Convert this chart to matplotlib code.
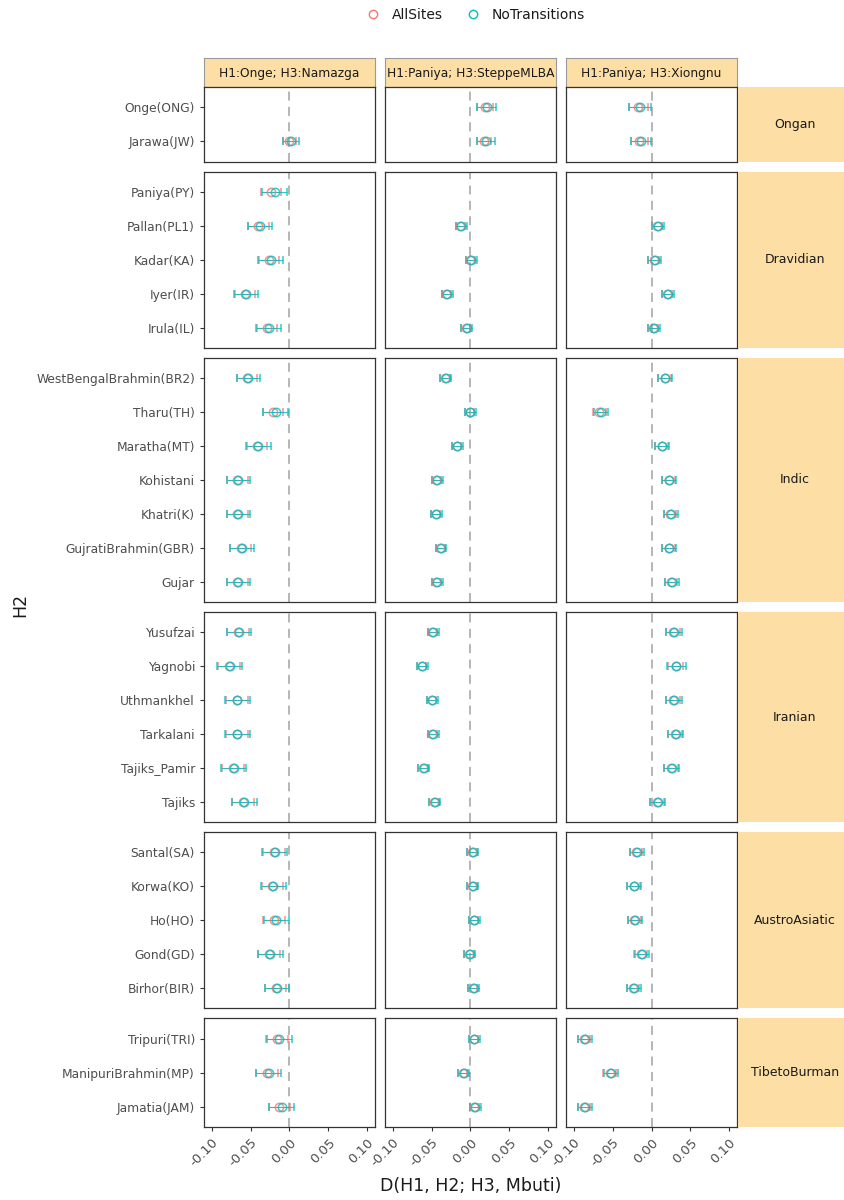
import numpy as np
import matplotlib
matplotlib.use("Agg")
import matplotlib.pyplot as plt
from matplotlib.lines import Line2D

nan = np.nan

# ---- data -------------------------------------------------------------
comparisons = ["H1:Onge; H3:Namazga", "H1:Paniya; H3:SteppeMLBA", "H1:Paniya; H3:Xiongnu"]

groups = ["Ongan", "Dravidian", "Indic", "Iranian", "AustroAsiatic", "TibetoBurman"]

populations = [
    ["Onge(ONG)", "Jarawa(JW)"],
    ["Paniya(PY)", "Pallan(PL1)", "Kadar(KA)", "Iyer(IR)", "Irula(IL)"],
    ["WestBengalBrahmin(BR2)", "Tharu(TH)", "Maratha(MT)", "Kohistani", "Khatri(K)",
     "GujratiBrahmin(GBR)", "Gujar"],
    ["Yusufzai", "Yagnobi", "Uthmankhel", "Tarkalani", "Tajiks_Pamir", "Tajiks"],
    ["Santal(SA)", "Korwa(KO)", "Ho(HO)", "Gond(GD)", "Birhor(BIR)"],
    ["Tripuri(TRI)", "ManipuriBrahmin(MP)", "Jamatia(JAM)"],
]

# D statistic per comparison (flattened over the populations above)
d_notrans_namazga = [nan, 0.002, -0.019, -0.038, -0.024, -0.056, -0.027,
                     -0.053, -0.018, -0.040, -0.066, -0.066, -0.061, -0.066,
                     -0.065, -0.077, -0.067, -0.067, -0.072, -0.058,
                     -0.019, -0.021, -0.017, -0.025, -0.016,
                     -0.013, -0.027, -0.010]
d_allsites_namazga = [nan, 0.000, -0.024, -0.040, -0.026, -0.057, -0.029,
                      -0.055, -0.021, -0.042, -0.067, -0.067, -0.063, -0.067,
                      -0.066, -0.078, -0.068, -0.068, -0.073, -0.060,
                      -0.020, -0.022, -0.020, -0.026, -0.018,
                      -0.016, -0.029, -0.013]
err_notrans_namazga = [nan, 0.010, 0.016, 0.016, 0.016, 0.016, 0.016,
                       0.015, 0.016, 0.016, 0.015, 0.015, 0.015, 0.015,
                       0.016, 0.016, 0.016, 0.016, 0.016, 0.016,
                       0.016, 0.016, 0.016, 0.016, 0.016,
                       0.016, 0.016, 0.016]
err_allsites_namazga = [nan, 0.008, 0.013, 0.013, 0.013, 0.013, 0.013,
                        0.013, 0.013, 0.013, 0.013, 0.013, 0.013, 0.013,
                        0.014, 0.014, 0.014, 0.014, 0.014, 0.014,
                        0.014, 0.014, 0.014, 0.014, 0.014,
                        0.014, 0.014, 0.014]

d_notrans_steppe = [0.021, 0.020, nan, -0.012, 0.001, -0.030, -0.005,
                    -0.032, 0.000, -0.017, -0.043, -0.044, -0.038, -0.043,
                    -0.048, -0.062, -0.049, -0.048, -0.060, -0.046,
                    0.003, 0.003, 0.005, -0.001, 0.004,
                    0.005, -0.009, 0.006]
d_allsites_steppe = [0.019, 0.018, nan, -0.013, 0.000, -0.031, -0.006,
                     -0.033, -0.001, -0.018, -0.044, -0.045, -0.039, -0.044,
                     -0.049, -0.063, -0.050, -0.049, -0.061, -0.047,
                     0.002, 0.002, 0.004, -0.002, 0.003,
                     0.004, -0.010, 0.005]
err_notrans_steppe = [0.012, 0.011, nan, 0.007, 0.007, 0.007, 0.007,
                      0.007, 0.007, 0.007, 0.007, 0.007, 0.007, 0.007,
                      0.007, 0.007, 0.007, 0.007, 0.007, 0.007,
                      0.007, 0.007, 0.007, 0.007, 0.007,
                      0.007, 0.007, 0.007]
err_allsites_steppe = [0.010, 0.009, nan, 0.006, 0.006, 0.006, 0.006,
                       0.006, 0.006, 0.006, 0.006, 0.006, 0.006, 0.006,
                       0.006, 0.006, 0.006, 0.006, 0.006, 0.006,
                       0.006, 0.006, 0.006, 0.006, 0.006,
                       0.006, 0.006, 0.006]

d_notrans_xiongnu = [-0.015, -0.014, nan, 0.008, 0.004, 0.021, 0.003,
                     0.018, -0.065, 0.014, 0.023, 0.025, 0.023, 0.026,
                     0.029, 0.032, 0.029, 0.031, 0.026, 0.008,
                     -0.019, -0.022, -0.021, -0.012, -0.023,
                     -0.085, -0.052, -0.085]
d_allsites_xiongnu = [-0.017, -0.016, nan, 0.007, 0.003, 0.020, 0.002,
                      0.017, -0.067, 0.013, 0.022, 0.024, 0.022, 0.025,
                      0.028, 0.031, 0.028, 0.030, 0.025, 0.007,
                      -0.020, -0.023, -0.022, -0.014, -0.024,
                      -0.087, -0.054, -0.087]
err_notrans_xiongnu = [0.014, 0.013, nan, 0.008, 0.008, 0.008, 0.008,
                       0.009, 0.009, 0.009, 0.009, 0.009, 0.009, 0.009,
                       0.010, 0.012, 0.010, 0.010, 0.010, 0.010,
                       0.009, 0.009, 0.009, 0.009, 0.009,
                       0.009, 0.009, 0.009]
err_allsites_xiongnu = [0.012, 0.011, nan, 0.007, 0.007, 0.007, 0.007,
                        0.008, 0.008, 0.008, 0.008, 0.008, 0.008, 0.008,
                        0.009, 0.010, 0.009, 0.009, 0.009, 0.009,
                        0.008, 0.008, 0.008, 0.008, 0.008,
                        0.008, 0.008, 0.008]

series_names = ["AllSites", "NoTransitions"]
series_colors = ["#F8766D", "#00BFC4"]

values = [
    (d_allsites_namazga, err_allsites_namazga, d_notrans_namazga, err_notrans_namazga),
    (d_allsites_steppe, err_allsites_steppe, d_notrans_steppe, err_notrans_steppe),
    (d_allsites_xiongnu, err_allsites_xiongnu, d_notrans_xiongnu, err_notrans_xiongnu),
]

x_ticks = [-0.10, -0.05, 0.00, 0.05, 0.10]

# ---- layout (pixels) --------------------------------------------------
W, H = 845, 1200
fig = plt.figure(figsize=(W / 100, H / 100), dpi=100)
fig.patch.set_facecolor("white")

def fig_rect(x0, y0, x1, y1):
    return [x0 / W, 1 - y1 / H, (x1 - x0) / W, (y1 - y0) / H]

col_left = [204, 385, 566]
col_width = 171
panel_top = 87
unit = 33.9
gap = 10
strip_top = 58
strip_right_x0 = 738
strip_right_x1 = 870

STRIP = "#FDDFA6"
BORDER = "#333333"
TEXT = "#4D4D4D"
FONT = "DejaVu Sans"

sizes = [len(p) for p in populations]
row_tops = []
y = panel_top
for n in sizes:
    h = (n + 0.2) * unit
    row_tops.append((y, y + h))
    y += h + gap

# column strips
for c, label in enumerate(comparisons):
    sax = fig.add_axes(fig_rect(col_left[c], strip_top, col_left[c] + col_width, panel_top))
    sax.set_facecolor(STRIP)
    sax.set_xticks([]); sax.set_yticks([])
    for s in sax.spines.values():
        s.set_color("#9a9a9a"); s.set_linewidth(0.8)
    sax.text(0.5, 0.45, label, ha="center", va="center", fontsize=8.8,
             color="#1A1A1A", family=FONT, transform=sax.transAxes)

start = 0
for r, (grp, names) in enumerate(zip(groups, populations)):
    n = len(names)
    y0, y1 = row_tops[r]
    ypos = np.arange(n)[::-1]
    for c in range(3):
        ax = fig.add_axes(fig_rect(col_left[c], y0, col_left[c] + col_width, y1))
        ax.set_xlim(-0.11, 0.11)
        ax.set_ylim(-0.6, n - 0.4)
        ax.axvline(0, color="#B0B0B0", lw=1.3, ls=(0, (5, 3.5)), zorder=1)
        a_v, a_e, n_v, n_e = values[c]
        sets = [(a_v, a_e), (n_v, n_e)]
        for (v, e), col in zip(sets, series_colors):
            vv = np.array(v[start:start + n], dtype=float)
            ee = np.array(e[start:start + n], dtype=float)
            ax.errorbar(vv, ypos, xerr=ee, fmt="o", mfc="none", mec=col, ms=6.0,
                        mew=1.1, ecolor=col, elinewidth=0.75, capsize=3.2,
                        capthick=0.75, alpha=0.8, zorder=3)
        for s in ax.spines.values():
            s.set_color(BORDER); s.set_linewidth(0.9)
        ax.tick_params(length=3, width=0.8, color=BORDER, labelcolor=TEXT)
        if c == 0:
            ax.set_yticks(ypos)
            ax.set_yticklabels(names, fontsize=8.8, family=FONT)
        else:
            ax.set_yticks([])
        ax.set_xticks(x_ticks)
        if r == len(groups) - 1:
            ax.set_xticklabels([f"{t:.2f}" for t in x_ticks], rotation=45,
                               ha="right", va="top", rotation_mode="anchor",
                               fontsize=9.5, family=FONT)
        else:
            ax.tick_params(axis="x", length=0, labelbottom=False)
    # row strip on the right
    rax = fig.add_axes(fig_rect(strip_right_x0, y0, strip_right_x1, y1))
    rax.set_facecolor(STRIP)
    rax.set_xticks([]); rax.set_yticks([])
    for s in rax.spines.values():
        s.set_visible(False)
    rax.text((795 - strip_right_x0) / (strip_right_x1 - strip_right_x0), 0.5, grp,
             ha="center", va="center", fontsize=9, color="#1A1A1A", family=FONT,
             transform=rax.transAxes)
    start += n

# axis titles
fig.text(471 / W, 1 - 1186 / H, "D(H1, H2; H3, Mbuti)", ha="center", va="center",
         fontsize=12.5, color="#1A1A1A", family=FONT)
fig.text(20 / W, 1 - 605 / H, "H2", ha="center", va="center", rotation=90,
         fontsize=12.5, color="#1A1A1A", family=FONT)

# legend
handles = [Line2D([], [], ls="none", marker="o", mfc="none", mec=col, ms=6, mew=1.0)
           for col in series_colors]
fig.legend(handles, series_names, loc="center", bbox_to_anchor=(472 / W, 1 - 15 / H),
           ncol=2, frameon=False, handletextpad=0.3, columnspacing=1.2,
           prop={"family": FONT, "size": 10}, labelcolor="#1A1A1A")

fig.savefig("out.png", dpi=100, facecolor="white")
